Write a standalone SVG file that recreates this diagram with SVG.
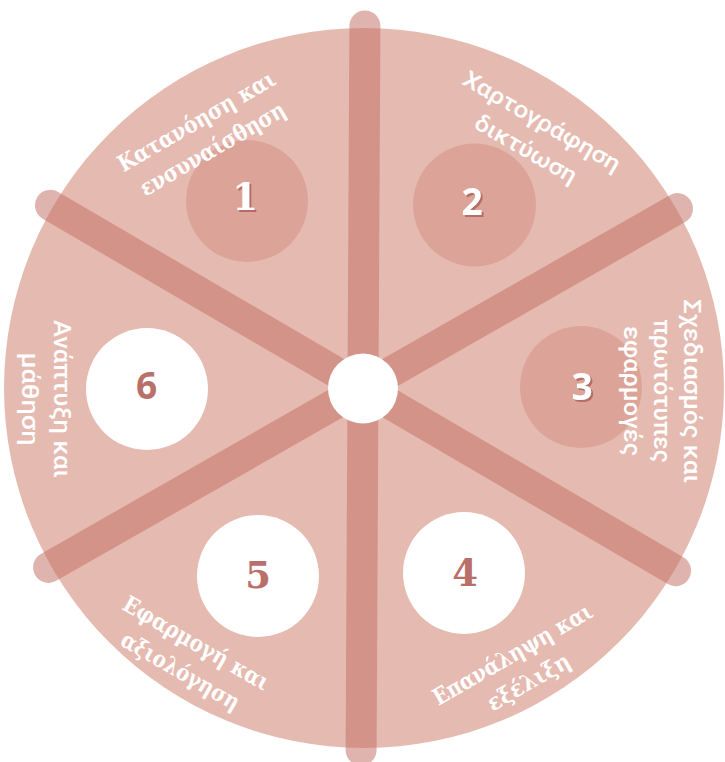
<svg xmlns="http://www.w3.org/2000/svg" width="725" height="762" viewBox="0 0 725 762">
<defs>
<filter id="shadow" x="-20%" y="-20%" width="150%" height="150%">
<feDropShadow dx="2" dy="2" stdDeviation="0.4" flood-color="#b0675e" flood-opacity="0.9"/>
</filter>
</defs>
<style>
.slab{font-family:"DejaVu Serif","Liberation Serif",serif;font-weight:bold;fill:#fff;}
.sans{font-family:Roboto,"Noto Sans",sans-serif;font-weight:500;fill:#fff;}
.lbl{font-size:23px;text-anchor:middle;dominant-baseline:central;}
.num{font-size:37px;text-anchor:middle;}
.numsans{font-family:"Open Sans",Roboto,sans-serif;font-weight:700;}
.numslab{font-family:"DejaVu Serif","Liberation Serif",serif;font-weight:bold;}
.wn{fill:#fff;filter:url(#shadow);}
.rn{fill:#b9706a;}
.dark{fill:#dca498;}
.light{fill:#ffffff;}
.spoke{stroke:#c26f64;stroke-opacity:0.52;stroke-width:31;stroke-linecap:round;fill:none;}
</style>
<g id="wheel">
<circle cx="364" cy="388" r="360" fill="#e5bbb1"/>
</g>
<g id="connectors" transform="rotate(0.3 363 388)">
<line class="spoke" x1="363" y1="26" x2="363" y2="750"/>
<line class="spoke" x1="49.5" y1="207" x2="676.5" y2="569"/>
<line class="spoke" x1="49.5" y1="569" x2="676.5" y2="207"/>
</g>
<g id="center"><circle cx="363" cy="388.5" r="35" fill="#fff"/></g>
<g id="node1">
<circle class="dark" cx="247" cy="201" r="61"/>
<text class="num numslab wn" x="245" y="210">1</text>
<text class="slab lbl" transform="translate(204 134) rotate(-30)"><tspan x="0" y="-16" textLength="178" lengthAdjust="spacingAndGlyphs">Κατανόηση και</tspan><tspan x="0" y="16" textLength="164" lengthAdjust="spacingAndGlyphs">ενσυναίσθηση</tspan></text>
</g>
<g id="node2">
<circle class="dark" cx="474.5" cy="205" r="61.5"/>
<text class="num numsans wn" x="472" y="215">2</text>
<text class="sans lbl" transform="translate(534 135) rotate(30)"><tspan x="0" y="-16" textLength="178" lengthAdjust="spacingAndGlyphs">Χαρτογράφηση</tspan><tspan x="0" y="16" textLength="114" lengthAdjust="spacingAndGlyphs">δικτύωση</tspan></text>
</g>
<g id="node3">
<circle class="dark" cx="581" cy="387" r="61"/>
<text class="num numsans wn" x="582" y="400">3</text>
<text class="sans lbl" transform="translate(662 391) rotate(90)"><tspan x="0" y="-30" textLength="184" lengthAdjust="spacingAndGlyphs">Σχεδιασμός και</tspan><tspan x="0" y="0" textLength="143" lengthAdjust="spacingAndGlyphs">πρωτότυπες</tspan><tspan x="0" y="30" textLength="130" lengthAdjust="spacingAndGlyphs">εφαρμογές</tspan></text>
</g>
<g id="node4">
<circle class="light" cx="464" cy="573" r="61"/>
<text class="num numslab rn" x="465" y="586">4</text>
<text class="slab lbl" transform="translate(520 667) rotate(-30)"><tspan x="0" y="-16" textLength="180" lengthAdjust="spacingAndGlyphs">Επανάληψη και</tspan><tspan x="0" y="16" textLength="92" lengthAdjust="spacingAndGlyphs">εξέλιξη</tspan></text>
</g>
<g id="node5">
<circle class="light" cx="258" cy="576" r="61"/>
<text class="num numslab rn" x="258" y="588">5</text>
<text class="slab lbl" transform="translate(189 656) rotate(30)"><tspan x="0" y="-16" textLength="165" lengthAdjust="spacingAndGlyphs">Εφαρμογή και</tspan><tspan x="0" y="16" textLength="133" lengthAdjust="spacingAndGlyphs">αξιολόγηση</tspan></text>
</g>
<g id="node6">
<circle class="light" cx="147" cy="389" r="61"/>
<text class="num numsans rn" x="146.5" y="399">6</text>
<text class="sans lbl" transform="translate(46 399) rotate(90)"><tspan x="0" y="-16" textLength="158" lengthAdjust="spacingAndGlyphs">Ανάπτυξη και</tspan><tspan x="0" y="16" textLength="93" lengthAdjust="spacingAndGlyphs">μάθηση</tspan></text>
</g>
</svg>
